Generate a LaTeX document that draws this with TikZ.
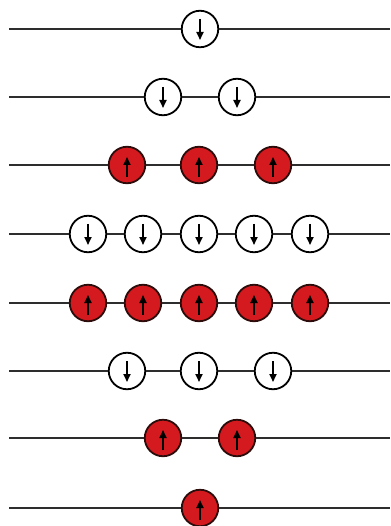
\documentclass[tikz,border=0pt]{standalone}
\usetikzlibrary{calc,arrows.meta}
\definecolor{spinred}{RGB}{212,26,30}
\definecolor{spinedge}{RGB}{45,12,12}
\definecolor{wire}{RGB}{45,45,45}
\tikzset{
  x=1pt,y=-1pt,
  wireline/.style={draw=wire,line width=2pt},
  downspin/.style={circle,draw=black,fill=white,line width=1.8pt,minimum size=36.5pt,inner sep=0pt},
  upspin/.style={circle,draw=spinedge,fill=spinred,line width=1.8pt,minimum size=36.5pt,inner sep=0pt},
  spinarrow/.style={draw=black,line width=1.8pt,-{Triangle[length=8pt,width=7pt]}},
}
\begin{document}
\begin{tikzpicture}
\useasboundingbox (0,0) rectangle (390,526);
% row 1
\node[downspin] (a1) at (200,29) {};
\coordinate (aL) at (9,29); \coordinate (aR) at (390,29);
\draw[wireline] (aL) -- (a1) -- (aR);
% row 2
\node[downspin] (b1) at (163,97) {};
\node[downspin] (b2) at (237,97) {};
\coordinate (bL) at (9,97); \coordinate (bR) at (390,97);
\draw[wireline] (bL) -- (b1) -- (b2) -- (bR);
% row 3
\node[upspin] (c1) at (127,165) {};
\node[upspin] (c2) at (199,165) {};
\node[upspin] (c3) at (273,165) {};
\coordinate (cL) at (9,165); \coordinate (cR) at (390,165);
\draw[wireline] (cL) -- (c1) -- (c2) -- (c3) -- (cR);
% row 4
\node[downspin] (d1) at (88,234) {};
\node[downspin] (d2) at (143,234) {};
\node[downspin] (d3) at (199,234) {};
\node[downspin] (d4) at (254,234) {};
\node[downspin] (d5) at (310,234) {};
\coordinate (dL) at (9,234); \coordinate (dR) at (390,234);
\draw[wireline] (dL) -- (d1) -- (d2) -- (d3) -- (d4) -- (d5) -- (dR);
% row 5
\node[upspin] (e1) at (88,303) {};
\node[upspin] (e2) at (143,303) {};
\node[upspin] (e3) at (199,303) {};
\node[upspin] (e4) at (254,303) {};
\node[upspin] (e5) at (310,303) {};
\coordinate (eL) at (9,303); \coordinate (eR) at (390,303);
\draw[wireline] (eL) -- (e1) -- (e2) -- (e3) -- (e4) -- (e5) -- (eR);
% row 6
\node[downspin] (f1) at (127,371) {};
\node[downspin] (f2) at (199,371) {};
\node[downspin] (f3) at (273,371) {};
\coordinate (fL) at (9,371); \coordinate (fR) at (390,371);
\draw[wireline] (fL) -- (f1) -- (f2) -- (f3) -- (fR);
% row 7
\node[upspin] (g1) at (163,438) {};
\node[upspin] (g2) at (237,438) {};
\coordinate (gL) at (9,438); \coordinate (gR) at (390,438);
\draw[wireline] (gL) -- (g1) -- (g2) -- (gR);
% row 8
\node[upspin] (h1) at (200,508) {};
\coordinate (hL) at (9,508); \coordinate (hR) at (390,508);
\draw[wireline] (hL) -- (h1) -- (hR);
% arrows
\foreach \n in {a1,b1,b2,d1,d2,d3,d4,d5,f1,f2,f3}{
  \draw[spinarrow] ($(\n.center)+(0,-10)$) -- ($(\n.center)+(0,11)$);
}
\foreach \n in {c1,c2,c3,e1,e2,e3,e4,e5,g1,g2,h1}{
  \draw[spinarrow] ($(\n.center)+(0,12)$) -- ($(\n.center)+(0,-8)$);
}
\end{tikzpicture}
\end{document}
